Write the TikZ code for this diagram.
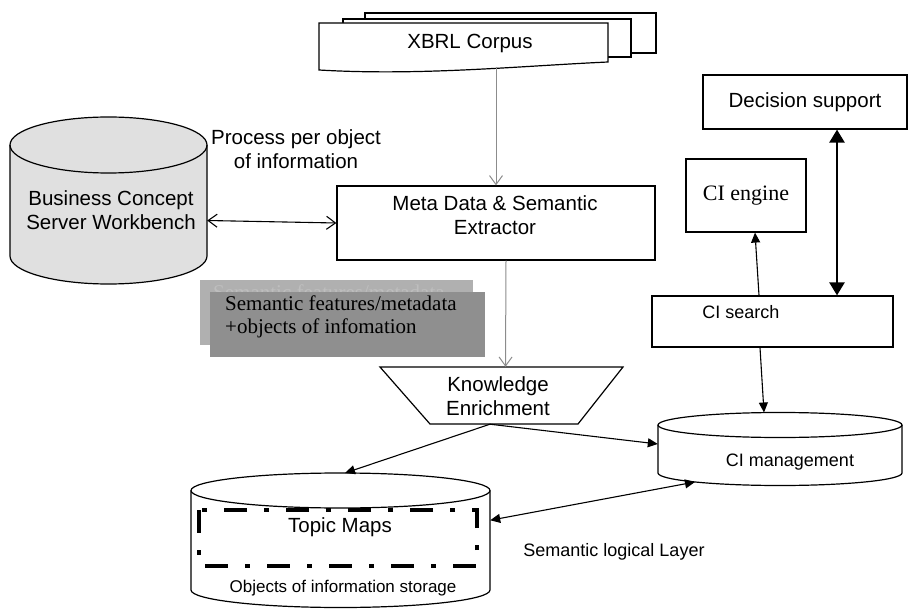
\documentclass[tikz,border=0pt]{standalone}
\usepackage{fontspec}
\setmainfont{Liberation Sans}
\newfontfamily\tms{Liberation Serif}
\usetikzlibrary{arrows.meta}
\definecolor{cylgray}{HTML}{E0E0E0}
\definecolor{backgray}{HTML}{B0B0B0}
\definecolor{frontgray}{HTML}{8F8F8F}
\definecolor{backtext}{HTML}{BEBEBE}
\definecolor{linegray}{HTML}{8C8C8C}
\begin{document}
\begin{tikzpicture}[x=1pt,y=-1pt,
  ln/.style={line width=1.2pt},
  box/.style={draw, line width=1.2pt, fill=white, inner sep=0pt},
  sf/.style={font=\fontsize{20.5}{24.5}\selectfont, align=center, inner sep=0pt},
  sm/.style={font=\fontsize{18}{22}\selectfont, align=center, inner sep=0pt},
  serif/.style={font=\tms\fontsize{21}{23}\selectfont, align=left, inner sep=0pt},
  anchorbox/.style={draw=none, inner sep=0pt},
  grayarrow/.style={draw=linegray, line width=1pt, -{Straight Barb[length=9pt,width=13pt]}},
  openboth/.style={line width=1.1pt, {Straight Barb[length=9pt,width=13pt]}-{Straight Barb[length=9pt,width=13pt]}},
  tri/.style={line width=1.1pt, -{Triangle[length=10pt,width=9pt]}},
  tribig/.style={line width=2.4pt, {Triangle[length=13pt,width=15pt]}-{Triangle[length=13pt,width=15pt]}},
  tripboth/.style={line width=1.1pt, {Triangle[length=10pt,width=9pt]}-{Triangle[length=10pt,width=9pt]}}
]
\useasboundingbox (0,0) rectangle (910,612);

% ---------- XBRL Corpus (stack of documents)
\draw[ln, fill=white] (365,13) rectangle (656,53);
\draw[ln, fill=white] (343,19) rectangle (631,57);
\draw[ln, fill=white] (319,23) -- (608,23) -- (608,62)
   .. controls (520,66) and (420,76) .. (319,70) -- cycle;
\node[sf] (xbrl) at (470,43) {XBRL Corpus};
\coordinate (xbrlb) at (496,67);

% ---------- Meta Data & Semantic Extractor
\node[box, minimum width=318pt, minimum height=74pt] (meta) at (496,223) {};
\node[sf] (metat) at (495,215) {Meta Data \& Semantic\\Extractor};

% ---------- Business Concept Server Workbench (cylinder)
\draw[ln, fill=cylgray] (10,145) -- (10,256)
  arc[start angle=180, end angle=360, x radius=98.5pt, y radius=28pt]
  -- (207,145)
  arc[start angle=0, end angle=180, x radius=98.5pt, y radius=28pt] -- cycle;
\draw[ln] (10,145) arc[start angle=180, end angle=360, x radius=98.5pt, y radius=28pt];
\node[anchorbox, minimum width=197pt, minimum height=111pt] (bc) at (108.5,200.5) {};
\node[sf] (bct) at (111,210) {Business Concept\\Server Workbench};

\node[sf] (proc) at (296,149) {Process per object\\of information};

\draw[openboth] ([yshift=-20pt]bc.east) -- (meta.west);

% ---------- Semantic features boxes
\node[anchorbox, fill=backgray, minimum width=273pt, minimum height=65pt] (semb) at (336.5,312.5) {};
\begin{scope}
\clip (200,280) rectangle (473,292);
\node[serif, text=backtext, anchor=base west] (sembt) at (213,299) {Semantic features/metadata};
\end{scope}
\node[anchorbox, fill=frontgray, minimum width=275pt, minimum height=65pt] (semf) at (347.5,324.5) {};
\node[serif, anchor=base west] (semft1) at (225,311) {Semantic features/metadata};
\node[serif, anchor=base west] (semft2) at (225,334) {+objects of infomation};

% ---------- Knowledge Enrichment (trapezoid)
\draw[ln, fill=white] (380,367) -- (623,367) -- (578,424) -- (430,424) -- cycle;
\node[anchorbox, minimum width=243pt, minimum height=57pt] (know) at (501.5,395.5) {};
\node[sf] (knowt) at (498,396) {Knowledge\\Enrichment};

\draw[grayarrow] (xbrlb) -- (xbrlb |- meta.north);
\draw[grayarrow] ([xshift=10pt]meta.south) -- ([xshift=4pt]know.north);

% ---------- Topic Maps cylinder
\draw[ln, fill=white] (191,490.5) -- (191,590)
  arc[start angle=180, end angle=360, x radius=149.5pt, y radius=17.5pt]
  -- (490,490.5)
  arc[start angle=0, end angle=180, x radius=149.5pt, y radius=17.5pt] -- cycle;
\draw[ln] (191,490.5) arc[start angle=180, end angle=360, x radius=149.5pt, y radius=17.5pt];
\node[anchorbox, minimum width=299pt, minimum height=99.5pt] (tm) at (340.5,540.25) {};
\draw[line width=4.5pt, dash pattern=on 23pt off 17pt on 5pt off 17pt] (199,510) rectangle (477,566);
\node[sf] (tmt) at (340,527) {Topic Maps};
\node[font=\fontsize{17}{20}\selectfont, inner sep=0pt] (tms) at (343,588) {Objects of information storage};
\coordinate (tmtop) at (345,473);

% ---------- CI management cylinder
\draw[ln, fill=white] (658,425) -- (658,473)
  arc[start angle=180, end angle=360, x radius=122pt, y radius=12.5pt]
  -- (902,425)
  arc[start angle=0, end angle=180, x radius=122pt, y radius=12.5pt] -- cycle;
\draw[ln] (658,425) arc[start angle=180, end angle=360, x radius=122pt, y radius=12.5pt];
\node[anchorbox, minimum width=244pt, minimum height=48pt] (cim) at (780,449) {};
\node[sm] (cimt) at (790,462) {CI management};
\coordinate (cimtop) at (764,412.5);
\coordinate (cimbot) at (695,482);

\node[sm] (sll) at (614,552) {Semantic logical Layer};

% ---------- CI search, CI engine, Decision support
\node[box, minimum width=241pt, minimum height=51pt] (search) at (772.5,321.5) {};
\node[sm] (searcht) at (741,312) {CI search};
\node[box, minimum width=120pt, minimum height=73pt, font=\tms\fontsize{22}{26}\selectfont] (engine) at (746,195.5) {CI engine};
\node[box, minimum width=204pt, minimum height=54pt, font=\fontsize{20.5}{24}\selectfont] (dec) at (805,102) {Decision support};

% ---------- connectors
\draw[tri] ([xshift=-11.5pt]know.south) -- (tmtop);
\draw[tri] ([xshift=-11.5pt]know.south) -- ([yshift=5pt]cim.west);
\draw[tripboth] ([yshift=20pt]tm.east) -- (cimbot);
\draw[tri] ([xshift=-12.5pt]search.south) -- (cimtop);
\draw[tri] ([xshift=-13.5pt]search.north) -- ([xshift=9pt]engine.south);
\coordinate (dsb) at ([xshift=32pt]dec.south);
\draw[tribig] (dsb) -- (dsb |- search.north);
\end{tikzpicture}
\end{document}
